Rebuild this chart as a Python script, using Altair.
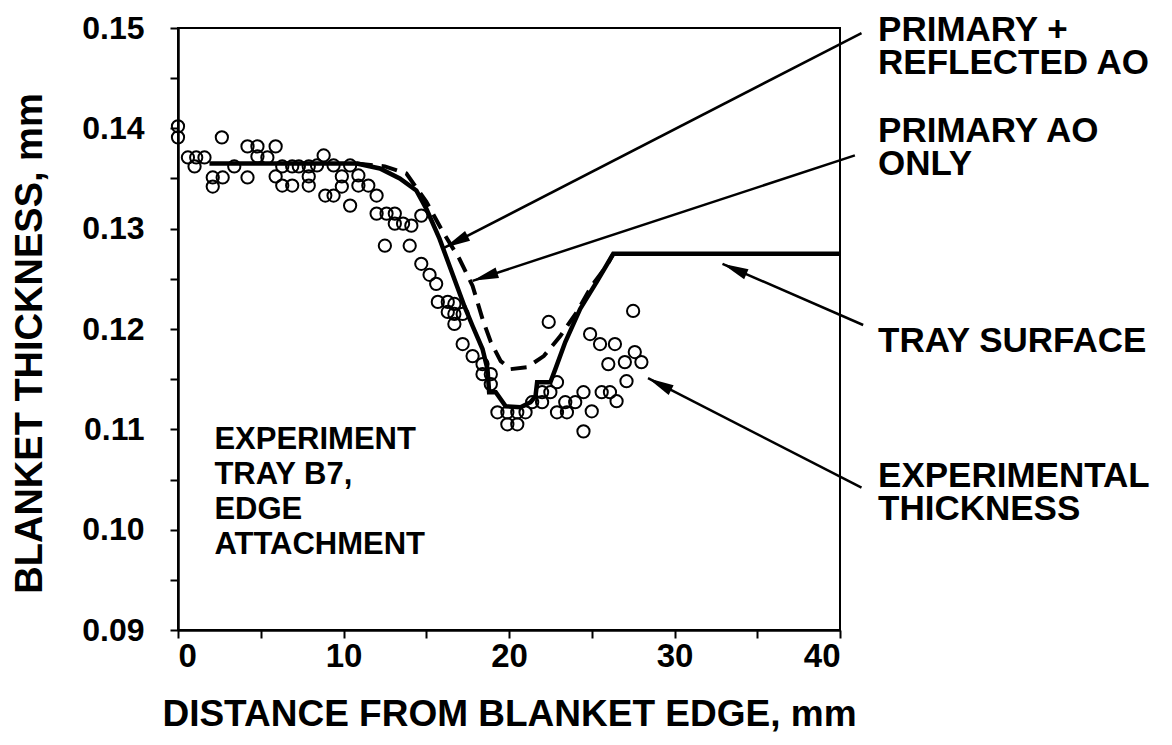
import math
import altair as alt
import pandas as pd

# ---------------- data ----------------
exp_x = [0.0, 0.0, 0.6, 1.1, 1.6, 1.0, 2.1, 2.7, 2.1, 2.65, 3.4, 4.2, 4.2, 4.8, 4.8, 5.4, 5.9, 5.9,
         6.3, 6.3, 6.9, 6.9, 7.3, 7.9, 7.9, 7.9, 8.4, 8.8, 9.4, 9.9, 9.9, 10.4, 10.4, 10.9, 10.9,
         11.5, 12.0, 8.9, 9.4, 12.0, 12.6, 13.1, 13.1, 13.6, 14.1, 14.7, 12.5, 14.0, 14.7, 15.2,
         15.6, 15.7, 16.3, 16.7, 16.3, 16.7, 17.2, 16.7, 17.2, 17.8, 18.4, 18.4, 18.9, 18.9, 19.3,
         19.9, 20.5, 21.0, 19.9, 20.5, 21.4, 22.0, 22.5, 22.9, 22.4, 22.0, 22.9, 23.4, 23.5, 24.0,
         24.5, 25.0, 24.5, 25.6, 26.1, 26.5, 27.1, 24.9, 25.5, 26.4, 26.0, 27.0, 27.6, 28.0, 27.5]
exp_y = [0.1402, 0.1391, 0.1371, 0.1371, 0.1371, 0.1362, 0.1351, 0.1351, 0.1342, 0.1391, 0.1362,
         0.1351, 0.1382, 0.1382, 0.1372, 0.1371, 0.1382, 0.1352, 0.1362, 0.1343, 0.1362, 0.1343,
         0.1362, 0.1362, 0.1352, 0.1343, 0.1363, 0.1373, 0.1363, 0.1352, 0.1342, 0.1363, 0.1323,
         0.1353, 0.1343, 0.1343, 0.1333, 0.1333, 0.1333, 0.1315, 0.1315, 0.1315, 0.1305, 0.1305,
         0.1303, 0.1313, 0.1283, 0.1283, 0.1265, 0.1254, 0.1245, 0.1227, 0.1227, 0.1225, 0.1217,
         0.1215, 0.1215, 0.1205, 0.1185, 0.1173, 0.1165, 0.1155, 0.1155, 0.1145, 0.1117, 0.1117,
         0.1117, 0.1117, 0.1105, 0.1105, 0.1127, 0.1137, 0.1137, 0.1147, 0.1207, 0.1127, 0.1117,
         0.1127, 0.1117, 0.1127, 0.1137, 0.1118, 0.1098, 0.1137, 0.1137, 0.1128, 0.1148, 0.1195,
         0.1185, 0.1185, 0.1165, 0.1167, 0.1177, 0.1167, 0.1218]

solid_x = [1.9, 10.8, 12.2, 13.4, 14.4, 15.0, 15.8, 17.3, 17.8, 18.4, 18.7, 18.8, 19.2, 19.8,
           20.7, 21.3, 21.6, 21.7, 22.5, 22.8, 23.4, 24.3, 25.3, 26.3, 40.0]
solid_y = [0.1365, 0.1365, 0.1360, 0.1350, 0.1338, 0.1320, 0.1290, 0.1223, 0.1203, 0.1180,
           0.1160, 0.1137, 0.1137, 0.1123, 0.1122, 0.1127, 0.1133, 0.1147, 0.1147, 0.1160,
           0.1187, 0.1220, 0.1247, 0.1275, 0.1275]

dash_x = [10.8, 12.5, 13.8, 15.0, 16.0, 17.0, 17.8, 18.4, 18.9, 19.5, 20.1, 21.1, 22.1, 23.1,
          24.1, 25.0, 25.9, 26.3]
dash_y = [0.1365, 0.1362, 0.1355, 0.1327, 0.1297, 0.1270, 0.1243, 0.1210, 0.1187, 0.1168,
          0.1160, 0.1162, 0.1173, 0.1193, 0.1217, 0.1243, 0.1263, 0.1275]

x_ticks = [0, 5, 10, 15, 20, 25, 30, 35, 40]
y_ticks = [0.09, 0.095, 0.10, 0.105, 0.11, 0.115, 0.12, 0.125, 0.13, 0.135, 0.14, 0.145, 0.15]

# multi-line labels; y is the position of the first line
right_labels = ["PRIMARY +\nREFLECTED AO", "PRIMARY AO\nONLY", "TRAY SURFACE",
                "EXPERIMENTAL\nTHICKNESS"]
right_label_y = [0.1498, 0.13973, 0.1188, 0.10535]
right_label_x = 42.3

left_labels = ["EXPERIMENT\nTRAY B7,\nEDGE\nATTACHMENT"]
left_label_y = [0.10894]
left_label_x = 2.2

# arrows: start (at label) -> tip (at curve)
arr_x1 = [41.3, 40.9, 41.4, 41.3]
arr_y1 = [0.1495, 0.1373, 0.1204, 0.1042]
arr_x2 = [16.1, 17.8, 32.9, 28.4]
arr_y2 = [0.1281, 0.1248, 0.1265, 0.1151]

# ---------------- layout ----------------
W, H = 662, 602
XMIN, XMAX, YMIN, YMAX = 0, 40, 0.09, 0.15
FONT = "Liberation Sans"

exp_df = pd.DataFrame({"x": exp_x, "y": exp_y})
solid_df = pd.DataFrame({"x": solid_x, "y": solid_y})
dash_df = pd.DataFrame({"x": dash_x, "y": dash_y})
rtext_df = pd.DataFrame({"x": [right_label_x] * len(right_labels), "y": right_label_y,
                         "t": right_labels})
ltext_df = pd.DataFrame({"x": [left_label_x] * len(left_labels), "y": left_label_y,
                         "t": left_labels})

sx = W / (XMAX - XMIN)
sy = H / (YMAX - YMIN)
angles = []
for a, b, c, d in zip(arr_x1, arr_y1, arr_x2, arr_y2):
    dx = (c - a) * sx
    dy = -(d - b) * sy
    angles.append(math.degrees(math.atan2(dx, -dy)) % 360)
arr_df = pd.DataFrame({"x": arr_x1, "y": arr_y1, "x2": arr_x2, "y2": arr_y2, "angle": angles})
head_df = pd.DataFrame({"x": arr_x2, "y": arr_y2, "angle": angles})

xscale = alt.Scale(domain=[XMIN, XMAX], nice=False, zero=False)
yscale = alt.Scale(domain=[YMIN, YMAX], nice=False, zero=False)

xaxis = alt.Axis(
    values=x_ticks,
    labelExpr="datum.value % 10 == 0 ? datum.label : ''",
    title="DISTANCE FROM BLANKET EDGE, mm",
    titleX=W / 2, titleY=84, titleAnchor="middle", titleBaseline="middle",
    titleFontSize=37, labelFontSize=33, labelPadding=2, grid=False,
)
yaxis = alt.Axis(
    values=y_ticks,
    labelExpr="abs(datum.value*100 - round(datum.value*100)) < 0.001 ? format(datum.value, '.2f') : ''",
    title="BLANKET THICKNESS, mm",
    titleX=-148, titleY=H / 2 + 14, titleAngle=-90, titleAlign="center", titleBaseline="middle",
    titleFontSize=38, labelFontSize=32, labelPadding=26, grid=False,
)

X = alt.X("x:Q", scale=xscale, axis=xaxis)
Y = alt.Y("y:Q", scale=yscale, axis=yaxis)

solid = alt.Chart(solid_df).mark_line(color="black", strokeWidth=4.5, strokeJoin="miter").encode(
    x=X, y=Y, order="x:Q")
dashed = alt.Chart(dash_df).mark_line(color="black", strokeWidth=4, strokeDash=[16, 9]).encode(
    x=X, y=Y, order="x:Q")
pts = alt.Chart(exp_df).mark_point(shape="circle", filled=False, color="black", size=150,
                                   strokeWidth=2, opacity=1).encode(x=X, y=Y)
arrows = alt.Chart(arr_df).mark_rule(color="black", strokeWidth=2.5).encode(
    x=X, y=Y, x2="x2:Q", y2="y2:Q")
heads = alt.Chart(head_df).mark_point(
    shape="M0,0L0.42,2L-0.42,2Z", filled=True, color="black", size=676, opacity=1,
    strokeWidth=0).encode(x=X, y=Y, angle=alt.Angle("angle:Q", scale=None))
rtext = alt.Chart(rtext_df).mark_text(
    align="left", baseline="middle", font=FONT, fontWeight="bold", fontSize=35, color="black",
    lineBreak="\n", lineHeight=33,
).encode(x=X, y=Y, text="t:N")
ltext = alt.Chart(ltext_df).mark_text(
    align="left", baseline="middle", font=FONT, fontWeight="bold", fontSize=31, color="black",
    lineBreak="\n", lineHeight=35,
).encode(x=X, y=Y, text="t:N")

chart = alt.layer(solid, dashed, pts, arrows, heads, rtext, ltext).properties(
    width=W, height=H,
    autosize=alt.AutoSizeParams(type="none"),
    padding={"left": 170, "top": 20, "right": 322, "bottom": 104},
    background="white",
).configure_view(
    stroke="black", strokeWidth=2
).configure_axis(
    domainColor="black", domainWidth=2.5, tickColor="black", tickWidth=2, tickSize=8,
    labelFont=FONT, labelFontWeight="bold", labelColor="black",
    titleFont=FONT, titleFontWeight="bold", titleColor="black",
)

chart.save("out.html", embed_options={"renderer": "svg", "actions": False})
